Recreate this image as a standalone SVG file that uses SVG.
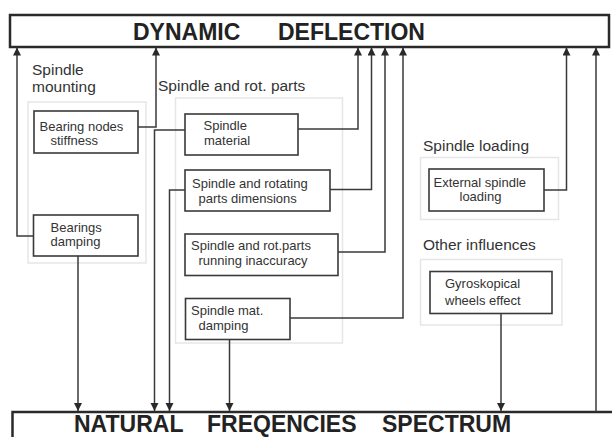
<svg xmlns="http://www.w3.org/2000/svg" width="612" height="437" viewBox="0 0 612 437">
<defs>
<marker id="ah" markerUnits="userSpaceOnUse" markerWidth="8" markerHeight="9" refX="8" refY="4" orient="auto">
<path d="M0,0 L8,4 L0,8 z" fill="#2a2a2a"/>
</marker>
<style>
.title{font-family:"Liberation Sans",Arial,sans-serif;font-weight:bold;font-size:23px;fill:#222}
.grp{fill:none;stroke:#e6e6e6;stroke-width:1.5}
.glab{font-family:"Liberation Sans",Arial,sans-serif;font-size:15.5px;fill:#333}
.box{fill:#fff;stroke:#3a3a3a;stroke-width:1.6}
.big{fill:#fff;stroke:#2a2a2a;stroke-width:2.5}
.t{font-family:"Liberation Sans",Arial,sans-serif;font-size:13px;fill:#333}
.c{fill:none;stroke:#3a3a3a;stroke-width:1.5;marker-end:url(#ah)}
</style>
</defs>
<rect width="612" height="437" fill="#fff"/>

<g id="dynamic-deflection">
<rect class="big" x="10" y="15" width="599" height="32"/>
<text class="title" y="39.5"><tspan x="133">DYNAMIC</tspan><tspan x="278">DEFLECTION</tspan></text>
</g>

<g id="natural-frequencies">
<rect class="big" x="12.5" y="412" width="620" height="40"/>
<text class="title" y="431.5"><tspan x="74">NATURAL</tspan><tspan x="207">FREQENCIES</tspan><tspan x="382">SPECTRUM</tspan></text>
</g>

<g id="group-mounting">
<rect class="grp" x="28" y="102" width="118" height="161"/>
<text class="glab" x="32" y="75">Spindle</text>
<text class="glab" x="32" y="92">mounting</text>
</g>
<g id="group-rot-parts">
<rect class="grp" x="175.5" y="98" width="167" height="245"/>
<text class="glab" x="158" y="91">Spindle and rot. parts</text>
</g>
<g id="group-loading">
<rect class="grp" x="420.5" y="157.5" width="138" height="62"/>
<text class="glab" x="423" y="151">Spindle loading</text>
</g>
<g id="group-other">
<rect class="grp" x="420.5" y="259.5" width="141.5" height="65.5"/>
<text class="glab" x="423" y="250">Other influences</text>
</g>

<g id="bearing-nodes-stiffness">
<rect class="box" x="34" y="111" width="104" height="42"/>
<text class="t" x="39.5" y="131">Bearing nodes</text>
<text class="t" x="50.5" y="144.5">stiffness</text>
</g>
<g id="bearings-damping">
<rect class="box" x="33.5" y="215" width="104.5" height="41"/>
<text class="t" x="50.5" y="231.5">Bearings</text>
<text class="t" x="50.5" y="245.5">damping</text>
</g>
<g id="spindle-material">
<rect class="box" x="185" y="114" width="113" height="41"/>
<text class="t" x="203.5" y="130">Spindle</text>
<text class="t" x="204" y="145">material</text>
</g>
<g id="spindle-rotating-dimensions">
<rect class="box" x="185" y="170" width="145" height="41"/>
<text class="t" x="192" y="188">Spindle and rotating</text>
<text class="t" x="198.5" y="202.5">parts dimensions</text>
</g>
<g id="running-inaccuracy">
<rect class="box" x="185" y="234" width="153" height="41.5"/>
<text class="t" x="191" y="250">Spindle and rot.parts</text>
<text class="t" x="198.5" y="265">running inaccuracy</text>
</g>
<g id="spindle-mat-damping">
<rect class="box" x="185.5" y="298.5" width="104.5" height="41"/>
<text class="t" x="191" y="315">Spindle mat.</text>
<text class="t" x="198.5" y="329.5">damping</text>
</g>
<g id="external-loading">
<rect class="box" x="429" y="169" width="115" height="42"/>
<text class="t" x="433.5" y="186.5">External spindle</text>
<text class="t" x="459.5" y="201">loading</text>
</g>
<g id="gyroskopical">
<rect class="box" x="430" y="271.5" width="122" height="42"/>
<text class="t" x="445" y="288">Gyroskopical</text>
<text class="t" x="445" y="304.5">wheels effect</text>
</g>

<g id="connectors">
<path class="c" d="M33.5,236 H17 V47.5"/>
<path class="c" d="M138,127 H156 V47.5"/>
<path class="c" d="M298,129 H358 V47.5"/>
<path class="c" d="M330,189.5 H371.5 V47.5"/>
<path class="c" d="M338,252 H385 V47.5"/>
<path class="c" d="M290,318 H403 V47.5"/>
<path class="c" d="M544,190 H566.5 V47.5"/>
<path class="c" d="M596,412 V47.5"/>
<path class="c" d="M78,256 V411"/>
<path class="c" d="M185,130 H154.5 V411"/>
<path class="c" d="M185,190 H169.5 V411"/>
<path class="c" d="M229.5,339.5 V411"/>
<path class="c" d="M501,313.5 V411"/>
</g>
</svg>
